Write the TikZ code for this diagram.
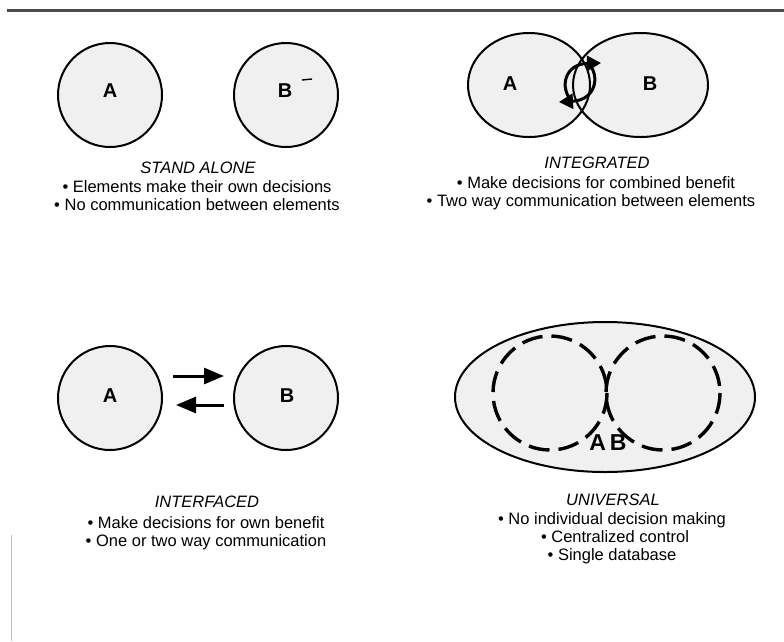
\documentclass[tikz,border=0pt]{standalone}
\usepackage{fontspec}
\setmainfont{Liberation Sans}
\usetikzlibrary{shapes.geometric,arrows.meta}
\begin{document}
\begin{tikzpicture}[x=1pt,y=-1pt,
  unit/.style={circle,draw=black,line width=2pt,fill=black!6,minimum size=104pt,inner sep=0pt},
  lobe/.style={ellipse,fill=black!6,inner sep=0pt},
  rim/.style={draw=black,line width=2pt},
  letter/.style={font=\fontsize{20}{20}\selectfont\bfseries},
  title/.style={anchor=base,font=\fontsize{16.5}{18}\selectfont\itshape},
  item/.style={anchor=base,font=\fontsize{16.5}{18}\selectfont},
  flow/.style={line width=3pt,-{Triangle[length=20pt,width=16pt]}},
  swirl/.style={line width=3pt,-{Triangle[length=14pt,width=15pt]}},
  dashring/.style={draw=black,line width=3.4pt,dash pattern=on 21pt off 9pt}
]
\useasboundingbox (0,0) rectangle (784,641);

% rule across the top and faint margin mark
\coordinate (ruleL) at (7,10.5);
\coordinate (ruleR) at (784,10.5);
\draw[line width=2.2pt,black!70] (ruleL) -- (ruleR);
\coordinate (markT) at (11,535);
\coordinate (markB) at (11,641);
\draw[line width=0.8pt,black!25] (markT) -- (markB);

% ---------- STAND ALONE ----------
\node[unit] (saA) at (110,95) {};
\node[unit] (saB) at (286,95) {};
\node[letter] (saAl) at (110,91) {A};
\node[letter] (saBl) at (285,91) {B};
\draw[line width=1.4pt] (302,80) -- (312,79);
\node[title] (saT) at (198,173) {STAND ALONE};
\node[item] (sa1) at (197,192) {• Elements make their own decisions};
\node[item] (sa2) at (197,210) {• No communication between elements};

% ---------- INTEGRATED ----------
\node[lobe,minimum width=122pt,minimum height=104pt] (igA) at (529,85) {};
\node[lobe,minimum width=135pt,minimum height=104pt] (igB) at (640.5,85) {};
\draw[rim] (igA.center) ellipse [x radius=61,y radius=52];
\draw[rim] (igB.center) ellipse [x radius=67.5,y radius=52];
\node[letter] (igAl) at (510,84) {A};
\node[letter] (igBl) at (650,84) {B};
\coordinate (sw1a) at (571,100);
\coordinate (sw1b) at (601,63);
\coordinate (sw2a) at (589,64);
\coordinate (sw2b) at (559,102);
\draw[swirl] (sw1a) .. controls (560,88) and (564,64) .. (sw1b);
\draw[swirl] (sw2a) .. controls (600,76) and (596,100) .. (sw2b);
\node[title] (igT) at (597,168) {INTEGRATED};
\node[item] (ig1) at (596,188) {• Make decisions for combined benefit};
\node[item] (ig2) at (591,206) {• Two way communication between elements};

% ---------- INTERFACED ----------
\node[unit] (ifA) at (110,398) {};
\node[unit] (ifB) at (286,398) {};
\node[letter] (ifAl) at (110,396) {A};
\node[letter] (ifBl) at (287,396) {B};
\coordinate (toB0) at (173,376);
\coordinate (toB1) at (224,376);
\coordinate (toA0) at (224,405);
\coordinate (toA1) at (176,405);
\draw[flow] (toB0) -- (toB1);
\draw[flow] (toA0) -- (toA1);
\node[title] (ifT) at (207,507) {INTERFACED};
\node[item] (if1) at (206,528) {• Make decisions for own benefit};
\node[item] (if2) at (206,546) {• One or two way communication};

% ---------- UNIVERSAL ----------
\node[ellipse,draw=black,line width=2pt,fill=black!6,minimum width=300pt,minimum height=150pt,inner sep=0pt] (uv) at (605,397) {};
\draw[dashring] (550,393) circle [radius=57];
\draw[dashring] (663,393) circle [radius=57];
\node[letter,font=\fontsize{23}{23}\selectfont\bfseries] (uvl) at (608,443) {A\,B};
\node[title] (uvT) at (613,505) {UNIVERSAL};
\node[item] (uv1) at (612,524) {• No individual decision making};
\node[item] (uv2) at (615,542) {• Centralized control};
\node[item] (uv3) at (612,560) {• Single database};
\end{tikzpicture}
\end{document}
